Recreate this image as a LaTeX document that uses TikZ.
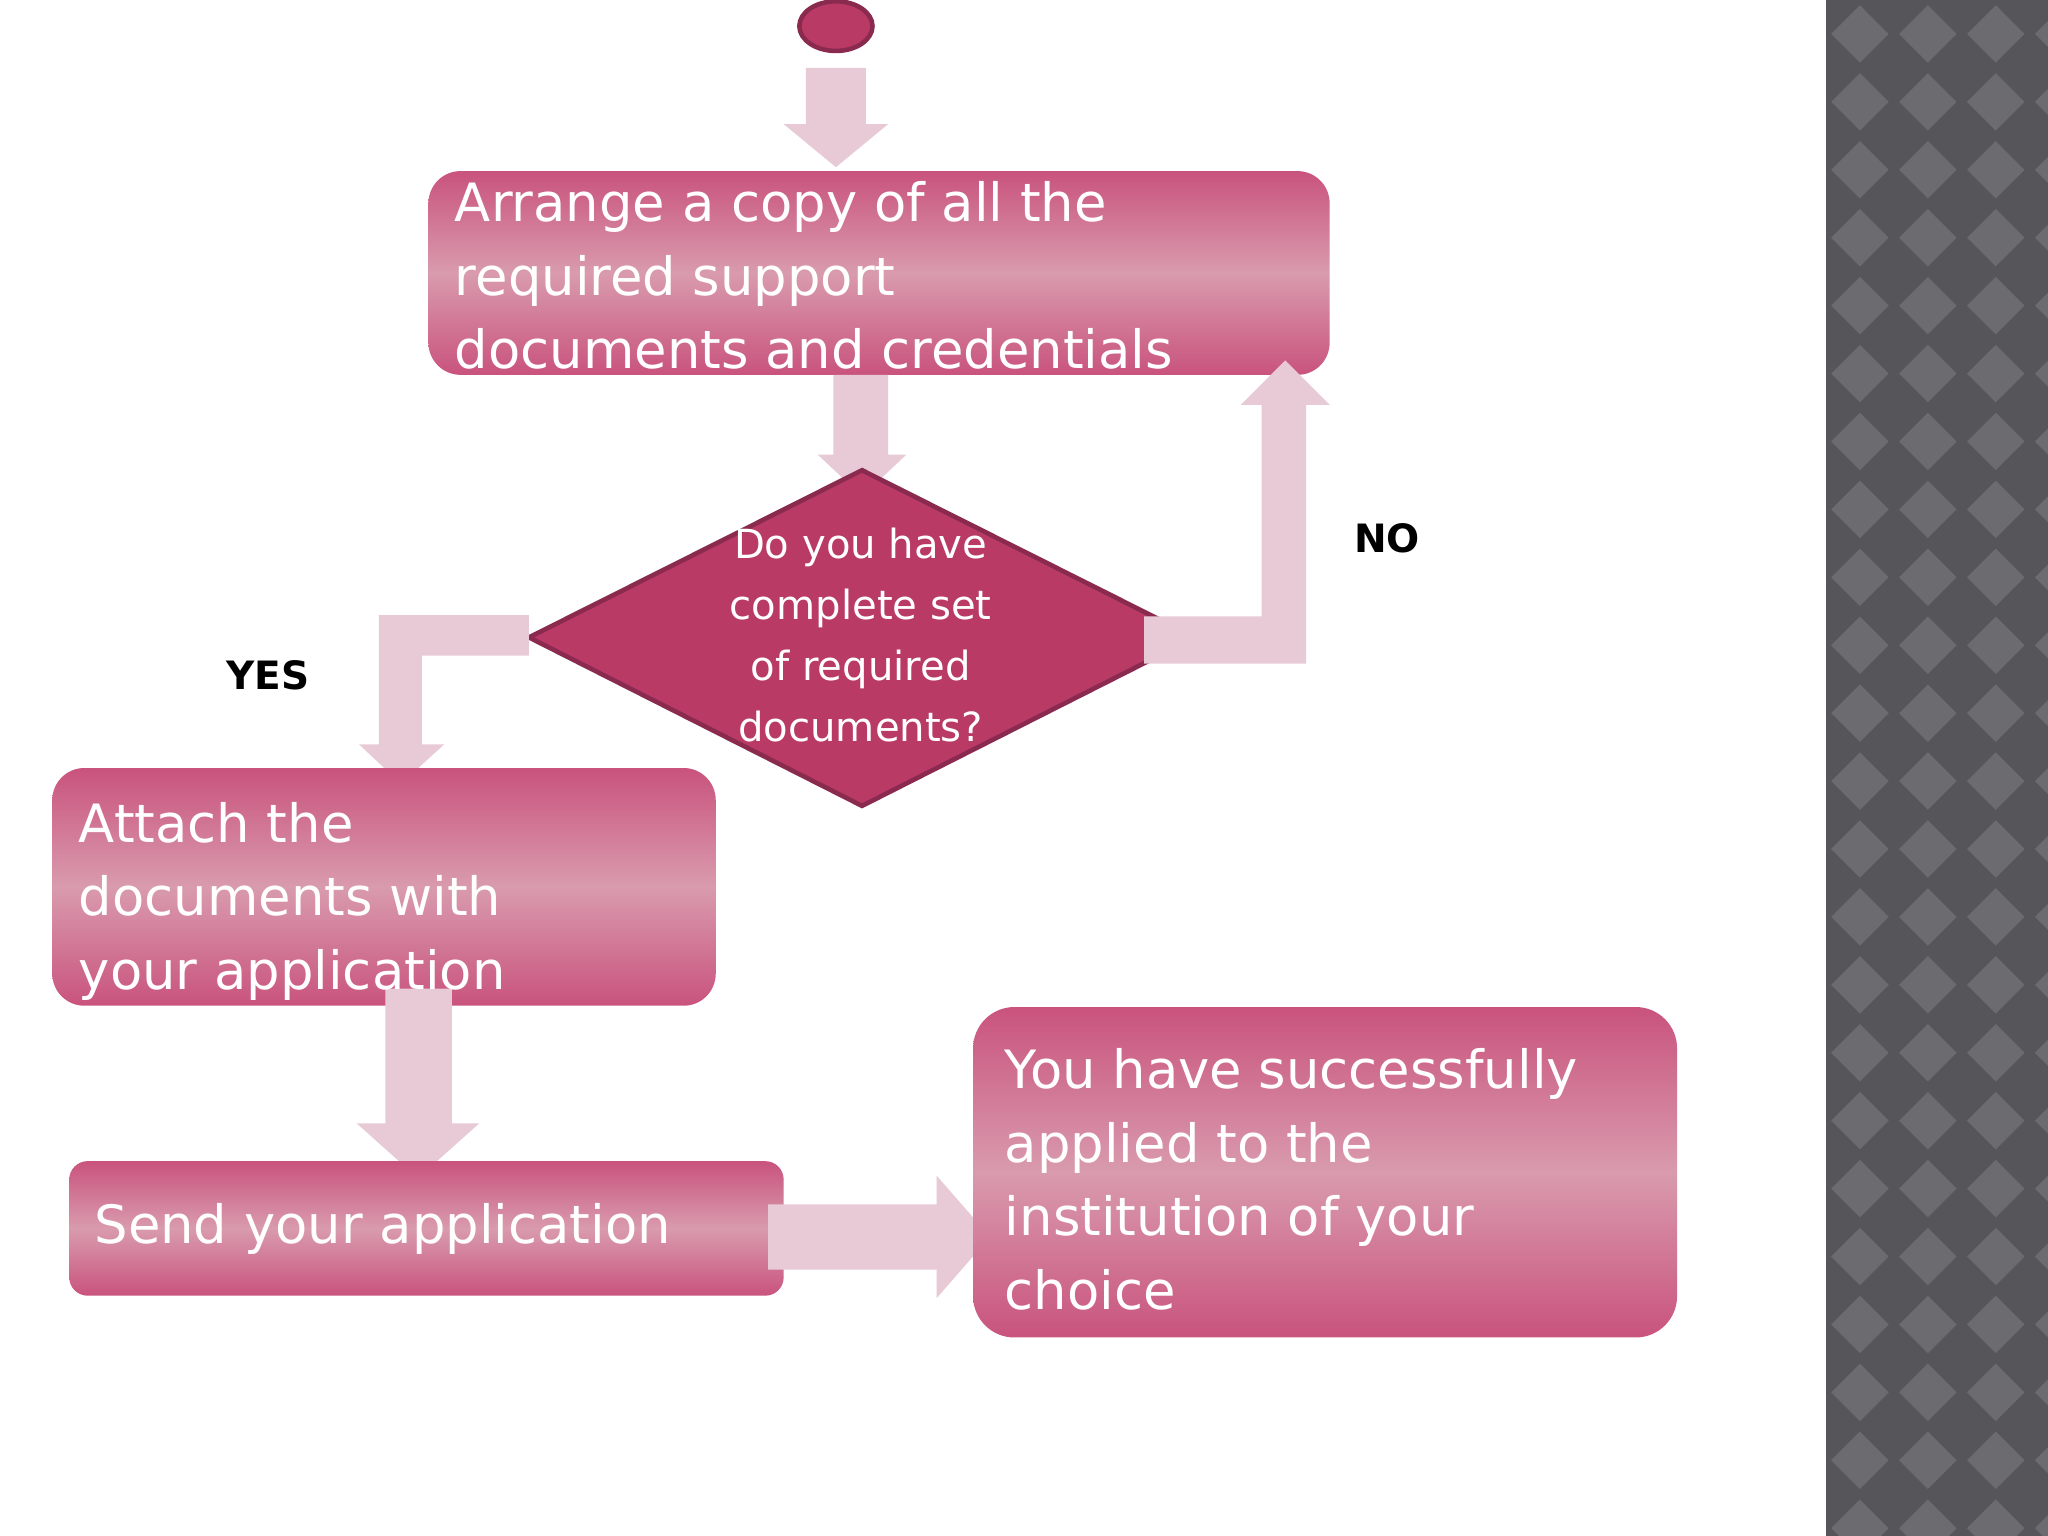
\documentclass[tikz,border=0pt]{standalone}
\usepackage{fontspec}
\setmainfont{DejaVu Sans}
\usetikzlibrary{shapes.geometric}
\definecolor{pk}{HTML}{C9537D}
\definecolor{pkm}{HTML}{D99BAE}
\definecolor{dia}{HTML}{B83A65}
\definecolor{diab}{HTML}{8A2A4E}
\definecolor{arr}{HTML}{E8CAD6}
\definecolor{gd}{HTML}{56565A}
\definecolor{gl}{HTML}{6C6C70}
\tikzset{
 boxsh/.style={rounded corners=14pt, top color=pk, bottom color=pk, middle color=pkm},
 bigtxt/.style={text=white, anchor=west, align=left, font=\fontsize{23}{32}\selectfont, inner sep=0pt},
 lbl/.style={font=\bfseries\fontsize{17}{20}\selectfont, text=black},
 blk/.style={fill=arr, draw=none}
}
\begin{document}
\begin{tikzpicture}[x=0.02cm,y=-0.02cm]
\useasboundingbox (0,0) rectangle (1568,1176);
\fill[white] (0,0) rectangle (1568,1176);
% right panel
\fill[gd] (1398,0) rectangle (1568,1176);
\begin{scope}
\clip (1398,0) rectangle (1568,1176);
\foreach \i in {0,...,4}{\foreach \j in {0,...,23}{
 \pgfmathsetmacro\cx{1398+26+52*\i}\pgfmathsetmacro\cy{26+52*\j}
 \fill[gl] (\cx,\cy-22) -- (\cx+22,\cy) -- (\cx,\cy+22) -- (\cx-22,\cy) -- cycle;
}}
\end{scope}
% start
\node[ellipse, draw=diab, line width=2pt, fill=dia, minimum width=56*0.02cm, minimum height=38*0.02cm] (start) at (640,20) {};
% box1
\shade[boxsh] (328,131) rectangle (1018,287);
\coordinate (b1) at (673,209);
% arrow start->box1
\fill[blk] (617,52) -- (663,52) -- (663,95) -- (680,95) -- (640,128) -- (600,95) -- (617,95) -- cycle;
% arrow box1->diamond
\fill[blk] (638,287) -- (680,287) -- (680,348) -- (694,348) -- (660,380) -- (626,348) -- (638,348) -- cycle;
% diamond
\draw[fill=dia, draw=diab, line width=2pt] (660,360) -- (915,488) -- (660,617) -- (405,488) -- cycle;
\node (dq) at (660,486) {};
% NO arrow
\fill[blk] (876,472) -- (966,472) -- (966,310) -- (950,310) -- (984,276) -- (1018,310) -- (1000,310) -- (1000,508) -- (876,508) -- cycle;
% YES arrow
\fill[blk] (405,471) -- (290,471) -- (290,570) -- (275,570) -- (307,600) -- (340,570) -- (323,570) -- (323,502) -- (405,502) -- cycle;
\node[lbl] (no) at (1062,412) {NO};
\node[lbl] (yes) at (205,517) {YES};
% box2
\shade[boxsh] (40,588) rectangle (548,770);
% arrow box2->box3
\fill[blk] (295,757) -- (346,757) -- (346,860) -- (367,860) -- (320,902) -- (273,860) -- (295,860) -- cycle;
% box3
\shade[boxsh, rounded corners=8pt] (53,889) rectangle (600,992);
% arrow box3->box4
\fill[blk] (588,922) -- (717,922) -- (717,900) -- (758,947) -- (717,994) -- (717,972) -- (588,972) -- cycle;
% box4
\shade[boxsh, rounded corners=18pt] (745,771) rectangle (1284,1024);
% texts
\node[bigtxt] (t1) at (348,211) {Arrange a copy of all the\\required support\\documents and credentials};
\node[text=white, align=center, font=\fontsize{17.5}{26.6}\selectfont, inner sep=0pt] (t2) at (659,486) {Do you have\\complete set\\of required\\documents?};
\node[bigtxt] (t3) at (60,690) {Attach the\\documents with\\your application};
\node[bigtxt] (t4) at (72,941) {Send your application};
\node[bigtxt] (t5) at (769,903) {You have successfully\\applied to the\\institution of your\\choice};
\end{tikzpicture}
\end{document}
